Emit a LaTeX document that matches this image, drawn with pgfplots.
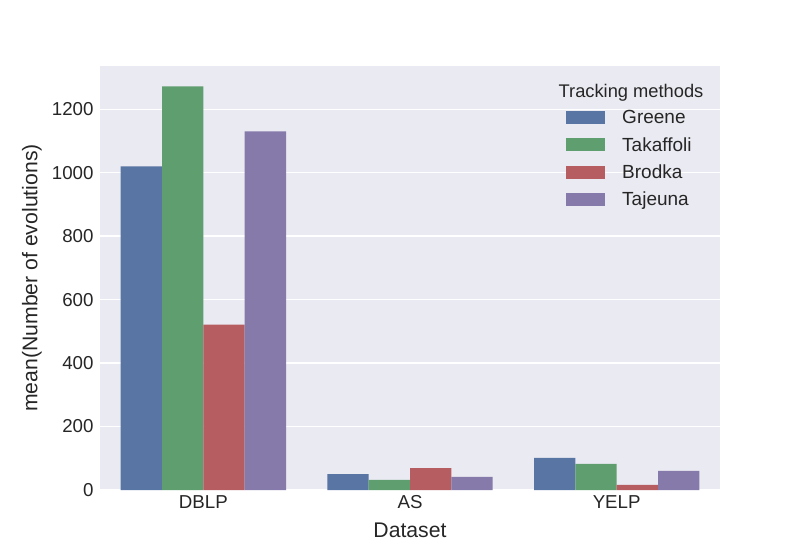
\documentclass[border=0pt]{standalone}
\usepackage{pgfplots}
\pgfplotsset{compat=1.18}
\usepackage{fontspec}
\setmainfont{Liberation Sans}
\definecolor{bg}{HTML}{EAEAF2}
\definecolor{tc}{HTML}{262626}
\definecolor{cGreene}{RGB}{88,117,164}
\definecolor{cTak}{RGB}{95,158,110}
\definecolor{cBro}{RGB}{181,93,96}
\definecolor{cTaj}{RGB}{133,122,170}
\begin{document}
\begin{tikzpicture}
\useasboundingbox (0,0) rectangle (800pt,550pt);
\begin{axis}[
  at={(100pt,60pt)}, anchor=south west, scale only axis,
  width=620pt, height=424pt,
  xmin=-0.5, xmax=2.5, ymin=0, ymax=1336,
  axis background/.style={fill=bg},
  axis line style={draw=none},
  major tick length=0pt,
  ymajorgrids, grid style={white, line width=1.3pt},
  xtick={0,1,2}, xticklabels={DBLP,AS,YELP},
  ytick={0,200,400,600,800,1000,1200},
  tick label style={font=\fontsize{18.7}{22}\selectfont, text=tc},
  /pgf/number format/assume math mode=true,
  scaled y ticks=false,
  yticklabel style={/pgf/number format/1000 sep={}, xshift=-3pt},
  xticklabel style={yshift=-2pt},
  xlabel={Dataset}, ylabel={mean(Number of evolutions)},
  every axis x label/.style={at={(axis description cs:0.5,-0.0943)}, anchor=center, font=\fontsize{21.2}{25}\selectfont, text=tc},
  every axis y label/.style={at={(axis description cs:-0.1097,0.5)}, anchor=center, rotate=90, font=\fontsize{21.2}{25}\selectfont, text=tc},
  ybar, bar width=0.2,
  legend cell align=left,
  legend style={at={(axis description cs:0.7468,0.905)}, anchor=north west,
    draw=none, fill=none, font=\fontsize{19}{22}\selectfont, text=tc,
    row sep=8pt,
    /tikz/every odd column/.append style={column sep=15pt}},
  legend image code/.code={\fill[#1] (0pt,-6.5pt) rectangle (39pt,6.5pt);},
]
\addplot[fill=cGreene, draw=none, bar shift=-0.3] coordinates {(0,1020) (1,50) (2,101)};
\addplot[fill=cTak, draw=none, bar shift=-0.1] coordinates {(0,1272) (1,32) (2,82)};
\addplot[fill=cBro, draw=none, bar shift=0.1] coordinates {(0,521) (1,69) (2,16)};
\addplot[fill=cTaj, draw=none, bar shift=0.3] coordinates {(0,1130) (1,41) (2,60)};
\legend{Greene,Takaffoli,Brodka,Tajeuna}
\node[font=\fontsize{18.3}{21}\selectfont, text=tc, anchor=center] at (axis description cs:0.8565,0.938) {Tracking methods};
\end{axis}
\end{tikzpicture}
\end{document}
